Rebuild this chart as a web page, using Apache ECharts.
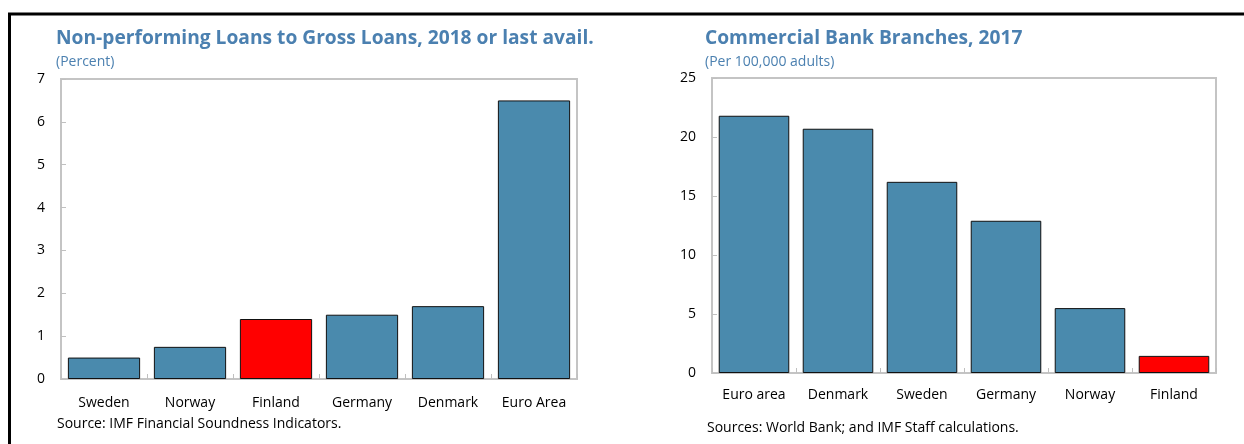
<!DOCTYPE html>
<html>
<head>
<meta charset="utf-8">
<script src="https://cdn.jsdelivr.net/npm/echarts@6/dist/echarts.min.js"></script>
<style>
    html, body { margin: 0; padding: 0; background: #fff; }
    #chart { width: 1244px; height: 444px; }
</style>
</head>
<body>
<div id="chart"></div>
<script>
    // left panel: non-performing loans (percent)
    const nplCountries = ['Sweden', 'Norway', 'Finland', 'Germany', 'Denmark', 'Euro Area'];
    const nplValues = [0.5, 0.75, 1.4, 1.5, 1.7, 6.5];

    // right panel: branches per 100,000 adults
    const branchCountries = ['Euro area', 'Denmark', 'Sweden', 'Germany', 'Norway', 'Finland'];
    const branchValues = [21.8, 20.7, 16.2, 12.9, 5.5, 1.45];

    const highlight = 'Finland';

    const blue = '#4a8aad';
    const red = '#ff0000';
    const titleBlue = '#4b80b0';
    const fontMain = '"Open Sans", "Noto Sans", sans-serif';

    function barData(names, values) {
        return values.map((v, i) => ({
            value: v,
            itemStyle: { color: names[i] === highlight ? red : blue }
        }));
    }

    const chart = echarts.init(document.getElementById('chart'));

    const axisCommon = {
        axisLine: { show: false },
        axisTick: { show: true, inside: true, length: 5, lineStyle: { color: '#c0c0c0', width: 1 } },
        splitLine: { show: false }
    };
    const labelStyle = { color: '#000', fontSize: 14, fontFamily: fontMain };

    chart.setOption({
        animation: false,
        title: [
            {
                text: 'Non-performing Loans to Gross Loans, 2018 or last avail.',
                subtext: '(Percent)',
                left: 56, top: 29, itemGap: 7, padding: 0,
                textStyle: { color: titleBlue, fontSize: 19.2, fontWeight: 'bold', fontFamily: fontMain },
                subtextStyle: { color: titleBlue, fontSize: 14, fontFamily: fontMain }
            },
            {
                text: 'Commercial Bank Branches, 2017',
                subtext: '(Per 100,000 adults)',
                left: 705, top: 29, itemGap: 7, padding: 0,
                textStyle: { color: titleBlue, fontSize: 19.2, fontWeight: 'bold', fontFamily: fontMain },
                subtextStyle: { color: titleBlue, fontSize: 14, fontFamily: fontMain }
            },
            {
                text: 'Source: IMF Financial Soundness Indicators.',
                left: 57, top: 417, padding: 0,
                textStyle: { color: '#000', fontSize: 14, fontWeight: 'normal', fontFamily: fontMain }
            },
            {
                text: 'Sources: World Bank; and IMF Staff calculations.',
                left: 707, top: 421, padding: 0,
                textStyle: { color: '#000', fontSize: 14, fontWeight: 'normal', fontFamily: fontMain }
            }
        ],
        grid: [
            { left: 61, top: 79, width: 516, height: 300, show: true, borderColor: '#c4c4c4', borderWidth: 2, backgroundColor: 'transparent' },
            { left: 712, top: 78, width: 504, height: 295, show: true, borderColor: '#c4c4c4', borderWidth: 2, backgroundColor: 'transparent' }
        ],
        xAxis: [
            Object.assign({}, axisCommon, {
                gridIndex: 0, type: 'category', data: nplCountries,
                axisLabel: Object.assign({}, labelStyle, { margin: 17 })
            }),
            Object.assign({}, axisCommon, {
                gridIndex: 1, type: 'category', data: branchCountries,
                axisLabel: Object.assign({}, labelStyle, { margin: 15 })
            })
        ],
        yAxis: [
            Object.assign({}, axisCommon, {
                gridIndex: 0, type: 'value', min: 0, max: 7, interval: 1,
                axisLabel: Object.assign({}, labelStyle, { margin: 16 })
            }),
            Object.assign({}, axisCommon, {
                gridIndex: 1, type: 'value', min: 0, max: 25, interval: 5,
                axisLabel: Object.assign({}, labelStyle, { margin: 16 })
            })
        ],
        series: [
            {
                type: 'bar', xAxisIndex: 0, yAxisIndex: 0,
                barCategoryGap: '16%',
                itemStyle: { borderColor: '#111', borderWidth: 1 },
                data: barData(nplCountries, nplValues)
            },
            {
                type: 'bar', xAxisIndex: 1, yAxisIndex: 1,
                barCategoryGap: '16%',
                itemStyle: { borderColor: '#111', borderWidth: 1 },
                data: barData(branchCountries, branchValues)
            }
        ],
        graphic: [
            { type: 'line', shape: { x1: 8, y1: 14, x2: 1244, y2: 14 }, style: { stroke: '#000', lineWidth: 3 } },
            { type: 'line', shape: { x1: 9.5, y1: 13, x2: 9.5, y2: 444 }, style: { stroke: '#000', lineWidth: 3 } }
        ]
    });
</script>
</body>
</html>
